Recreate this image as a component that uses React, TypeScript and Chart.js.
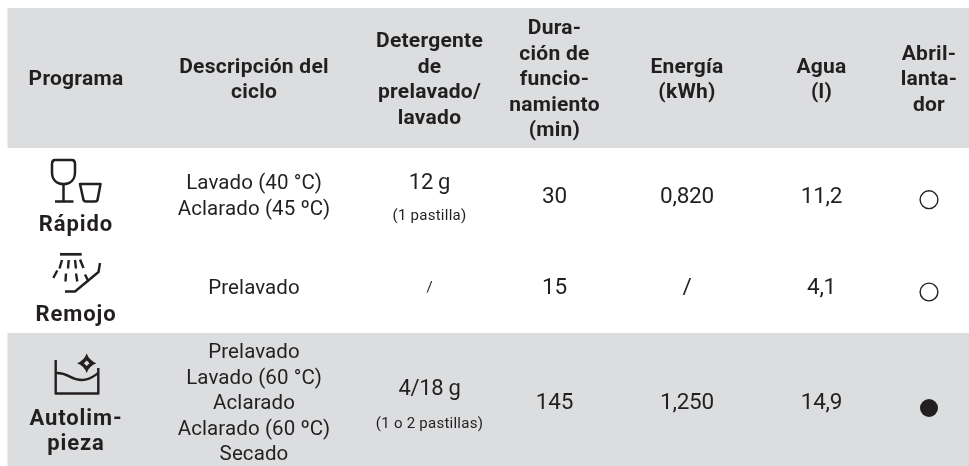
import React, { useEffect, useRef } from "react";
import { Chart, CategoryScale, ScatterController, PointElement } from "chart.js";

const columns = ["Programa", "Descripción", "Detergente", "Duración", "Energía", "Agua", "Abrillantador"];
const rows = ["Cabecera", "Rápido", "Remojo", "Autolimpieza"];
const shadedRows = ["Cabecera", "Autolimpieza"];

const headerLines = [
  ["Programa"],
  ["Descripción del", "ciclo"],
  ["Detergente", "de", "prelavado/", "lavado"],
  ["Dura-", "ción de", "funcio-", "namiento", "(min)"],
  ["Energía", "(kWh)"],
  ["Agua", "(l)"],
  ["Abril-", "lanta-", "dor"],
];
const programNames = [["Rápido"], ["Remojo"], ["Autolim-", "pieza"]];
const cycleDescriptions = [
  ["Lavado (40 °C)", "Aclarado (45 ºC)"],
  ["Prelavado"],
  ["Prelavado", "Lavado (60 °C)", "Aclarado", "Aclarado (60 ºC)", "Secado"],
];
const detergentAmounts = ["12 g", "/", "4/18 g"];
const detergentNotes = ["(1 pastilla)", "", "(1 o 2 pastillas)"];
const durations = ["30", "15", "145"];
const energies = ["0,820", "/", "1,250"];
const waters = ["11,2", "4,1", "14,9"];
const rinseOpen = ["Rápido", "Remojo"];
const rinseFilled = ["Autolimpieza"];

// Layout (pixels), separate from the data
const colCenters = [76, 254, 429.5, 554.5, 687, 821.5, 929];
const rowCenters = [80, 199.7, 292, 408];
const LEFT = 7.5, RIGHT = 969;
const bandEdges: Record<string, [number, number]> = { Cabecera: [8, 148], Autolimpieza: [333, 466] };
const INK = "#231f20";
const GREY = "#dcddde";
const LINE = 25.5;
const FAMILY = "Roboto, sans-serif";

class TableScale extends CategoryScale {
  static id = "table";
  static defaults = CategoryScale.defaults;
  getPixelForValue(value: any) {
    const centers = (this.options as any).centers as number[];
    return centers[Math.round(value)];
  }
}

Chart.register(TableScale, ScatterController, PointElement);

function label(ctx: CanvasRenderingContext2D, s: string, x: number, y: number, font: string, spacing: number) {
  ctx.font = font;
  (ctx as any).letterSpacing = spacing + "px";
  ctx.fillStyle = INK;
  ctx.textAlign = "center";
  ctx.textBaseline = "middle";
  ctx.fillText(s, x, y);
}

function block(ctx: CanvasRenderingContext2D, lines: string[], x: number, y: number, font: string, spacing: number) {
  lines.forEach((l, i) => label(ctx, l, x, y + (i - (lines.length - 1) / 2) * LINE, font, spacing));
}

function stroke(ctx: CanvasRenderingContext2D, w: number, draw: () => void) {
  ctx.lineWidth = w;
  ctx.strokeStyle = INK;
  ctx.lineCap = "butt";
  ctx.lineJoin = "round";
  ctx.beginPath();
  draw();
  ctx.stroke();
}

function glassIcon(ctx: CanvasRenderingContext2D) {
  stroke(ctx, 2.5, () => {
    ctx.moveTo(55, 160);
    ctx.lineTo(72, 160);
    ctx.quadraticCurveTo(75, 160, 75, 164);
    ctx.lineTo(75, 172);
    ctx.bezierCurveTo(75, 180, 70, 184, 63.5, 184);
    ctx.bezierCurveTo(57, 184, 52, 180, 52, 172);
    ctx.lineTo(52, 164);
    ctx.quadraticCurveTo(52, 160, 55, 160);
    ctx.moveTo(63.5, 184);
    ctx.lineTo(63.5, 201.5);
    ctx.moveTo(55, 201.5);
    ctx.lineTo(73.5, 201.5);
    ctx.moveTo(80, 184);
    ctx.lineTo(100.5, 184);
    ctx.lineTo(97.5, 200);
    ctx.quadraticCurveTo(97, 201.5, 95, 201.5);
    ctx.lineTo(86, 201.5);
    ctx.quadraticCurveTo(84, 201.5, 83.5, 200);
    ctx.closePath();
  });
}

function sprayIcon(ctx: CanvasRenderingContext2D) {
  stroke(ctx, 2.7, () => {
    ctx.moveTo(60, 254.3);
    ctx.lineTo(81.7, 254.3);
  });
  const rays = [
    [62, 260, 59.5, 268.5], [68.7, 260, 68, 268.5], [75, 260, 76, 268.5], [80, 259.5, 83.5, 268],
    [57.3, 270.5, 53.3, 278], [66, 273.5, 65.5, 281.5], [76, 273.5, 77.3, 281.5], [85, 274.5, 88.5, 281.5],
  ];
  stroke(ctx, 2.4, () => {
    rays.forEach((r) => {
      ctx.moveTo(r[0], r[1]);
      ctx.lineTo(r[2], r[3]);
    });
  });
  stroke(ctx, 2.4, () => {
    ctx.moveTo(100, 263);
    ctx.lineTo(98.5, 272);
    ctx.lineTo(75, 291.5);
    ctx.lineTo(65, 291.5);
  });
}

function basinIcon(ctx: CanvasRenderingContext2D) {
  stroke(ctx, 2.4, () => {
    ctx.moveTo(55.7, 360);
    ctx.lineTo(55.7, 393.5);
    ctx.lineTo(98.3, 393.5);
    ctx.lineTo(98.3, 368);
    ctx.moveTo(55.7, 373);
    ctx.bezierCurveTo(68, 372, 70, 380, 82, 380);
    ctx.bezierCurveTo(90, 380, 94, 376, 98.3, 373);
  });
  const cx = 86.7, cy = 363.3, r = 9.7, k = 2.6;
  ctx.fillStyle = INK;
  ctx.beginPath();
  ctx.moveTo(cx, cy - r);
  ctx.quadraticCurveTo(cx + k, cy - k, cx + r, cy);
  ctx.quadraticCurveTo(cx + k, cy + k, cx, cy + r);
  ctx.quadraticCurveTo(cx - k, cy + k, cx - r, cy);
  ctx.quadraticCurveTo(cx - k, cy - k, cx, cy - r);
  ctx.closePath();
  ctx.fill();
  ctx.fillStyle = GREY;
  ctx.beginPath();
  ctx.moveTo(cx, cy - 2.8);
  ctx.lineTo(cx + 2.8, cy);
  ctx.lineTo(cx, cy + 2.8);
  ctx.lineTo(cx - 2.8, cy);
  ctx.closePath();
  ctx.fill();
}

const tablePlugin = {
  id: "tablePlugin",
  beforeDatasetsDraw(chart: any) {
    const { ctx, scales } = chart;
    const x = scales.x, y = scales.y;
    ctx.save();
    ctx.fillStyle = GREY;
    shadedRows.forEach((r) => {
      const [a, b] = bandEdges[r];
      ctx.fillRect(LEFT, a, RIGHT - LEFT, b - a);
    });
    const bold = `bold 21px ${FAMILY}`;
    const body = `400 20.5px ${FAMILY}`;
    const number = `400 22.5px ${FAMILY}`;
    const large = `400 22px ${FAMILY}`;
    const small = `400 15px ${FAMILY}`;
    const col = (i: number) => x.getPixelForValue(i);
    const rowY = (i: number) => y.getPixelForValue(i);
    headerLines.forEach((lines, c) => block(ctx, lines, col(c), rowY(0), bold, 0.25));

    const valueOffset = [-2.7, -3.5, -4.5];
    [0, 1, 2].forEach((r) => {
      const base = rowY(r + 1);
      const off = valueOffset[r];
      [durations, energies, waters].forEach((arr, k) => {
        label(ctx, arr[r], col(3 + k), base + off, number, -0.2);
      });
      const descOffset = [-3, -3, -4][r];
      block(ctx, cycleDescriptions[r], col(1), base + descOffset, body, 0.1);
      if (detergentNotes[r]) {
        label(ctx, detergentAmounts[r], col(2), base + [-16.5, 0, -18.5][r], large, -0.3);
        label(ctx, detergentNotes[r], col(2), base + [17, 0, 16][r], small, 0.25);
      } else {
        label(ctx, detergentAmounts[r], col(2), base + off, `400 15px ${FAMILY}`, 0);
      }
    });
    const nameFont = `bold 22px ${FAMILY}`;
    label(ctx, programNames[0][0], col(0), 225, nameFont, 0.9);
    label(ctx, programNames[1][0], col(0), 315, nameFont, 0.9);
    block(ctx, programNames[2], col(0), 432, nameFont, 0.9);
    glassIcon(ctx);
    sprayIcon(ctx);
    basinIcon(ctx);
    ctx.restore();
  },
};

export default function App() {
  const ref = useRef<HTMLCanvasElement>(null);
  useEffect(() => {
    document.body.style.margin = "0";
    const chart = new Chart(ref.current!, {
      type: "scatter",
      data: {
        datasets: [
          {
            label: "Abrillantador opcional",
            data: rinseOpen.map((r) => ({ x: "Abrillantador", y: r })) as any,
            pointRadius: 8.9,
            pointBorderWidth: 1.4,
            pointBorderColor: INK,
            pointBackgroundColor: "transparent",
          },
          {
            label: "Abrillantador obligatorio",
            data: rinseFilled.map((r) => ({ x: "Abrillantador", y: r })) as any,
            pointRadius: 9,
            pointBorderWidth: 0,
            pointBackgroundColor: INK,
          },
        ],
      },
      options: {
        animation: false,
        responsive: false,
        layout: { padding: 0 },
        plugins: { legend: { display: false }, tooltip: { enabled: false } },
        scales: {
          x: { type: "table", labels: columns, centers: colCenters, display: false } as any,
          y: { type: "table", labels: rows, centers: rowCenters, display: false } as any,
        },
      },
      plugins: [tablePlugin],
    });
    return () => chart.destroy();
  }, []);
  return <canvas ref={ref} width={969} height={466} style={{ display: "block", width: 969, height: 466 }} />;
}
